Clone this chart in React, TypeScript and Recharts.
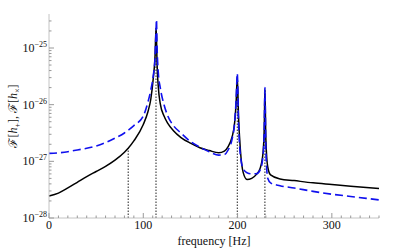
import { LineChart, Line, XAxis, YAxis, ReferenceLine } from "recharts"

// frequency samples [Hz]
const freq = [
  0, 10, 20, 30, 40, 50, 60, 70, 80, 84, 90, 100, 105, 108, 110.5, 112.5, 113.5, 114, 114.5, 116,
  118, 122, 126, 132, 140, 150, 160, 170, 180, 186, 190, 194, 197, 198.5, 199.7, 201, 203, 206,
  210, 215, 220, 224, 227, 228.3, 229, 230, 232, 235, 245, 260, 280, 300, 320, 350,
]

// log10 of F[h+] (black solid)
const plusLog = [
  -27.61, -27.56, -27.47, -27.37, -27.27, -27.18, -27.09, -26.98, -26.84, -26.77, -26.64, -26.35,
  -26.12, -25.9, -25.55, -25.13, -24.65, -24.8, -25.2, -25.7, -25.98, -26.2, -26.33, -26.46,
  -26.58, -26.68, -26.76, -26.81, -26.85, -26.82, -26.74, -26.58, -26.3, -25.95, -25.5, -26.2,
  -26.8, -27.2, -27.32, -27.3, -27.23, -27.12, -26.85, -26.4, -25.73, -26.6, -27.1, -27.24,
  -27.31, -27.34, -27.38, -27.41, -27.44, -27.48,
]

// log10 of F[hx] (blue dashed)
const crossLog = [
  -26.86, -26.85, -26.83, -26.8, -26.77, -26.73, -26.67, -26.59, -26.5, -26.45, -26.37, -26.2,
  -25.95, -25.74, -25.5, -25.15, -24.7, -24.5, -24.9, -25.45, -25.7, -26.0, -26.2, -26.37, -26.5,
  -26.65, -26.75, -26.83, -26.89, -26.88, -26.8, -26.62, -26.3, -25.9, -25.45, -26.3, -26.9,
  -27.13, -27.2, -27.22, -27.22, -27.15, -26.9, -26.45, -25.7, -26.8, -27.3, -27.38, -27.43,
  -27.47, -27.53, -27.58, -27.62, -27.68,
]

// dotted resonance markers
const markerFreq = [84, 113.5, 199.7, 229]
const markerLevel = [-26.77, -24.65, -25.5, -25.73]

const xMajor = [0, 100, 200, 300]

const data = freq.map((f, i) => ({ f, plus: plusLog[i], cross: crossLog[i] }))

const xTicks: number[] = []
for (let v = 0; v <= 350; v += 10) xTicks.push(v)
const yTicks: number[] = []
for (let n = -28; n <= -25; n++) {
  for (let k = 1; k <= 9; k++) {
    const t = n + Math.log10(k)
    if (t <= -24.4) yTicks.push(t)
  }
}

const serif = '"Liberation Serif", "DejaVu Serif", serif'
const tickColor = "#999"

const isMajorX = (v: number) => xMajor.includes(v)
const isMajorY = (v: number) => Math.abs(v - Math.round(v)) < 1e-6

const BottomTick = (props: any) => {
  const { x, y, payload } = props
  const major = isMajorX(payload.value)
  return (
    <g>
      <line x1={x} x2={x} y1={y} y2={y - (major ? 5 : 2.5)} stroke={tickColor} />
      {major && (
        <text x={x} y={y + 11} textAnchor="middle" fontSize={12} fontFamily={serif} fill="#111">
          {payload.value}
        </text>
      )}
    </g>
  )
}

const TopTick = (props: any) => {
  const { x, y, payload } = props
  const major = isMajorX(payload.value)
  return <line x1={x} x2={x} y1={y} y2={y + (major ? 5 : 2.5)} stroke={tickColor} />
}

const LeftTick = (props: any) => {
  const { x, y, payload } = props
  const major = isMajorY(payload.value)
  return (
    <g>
      <line x1={x} x2={x + (major ? 5 : 2.5)} y1={y} y2={y} stroke={tickColor} />
      {major && (
        <text x={x - 2} y={y + 4} textAnchor="end" fontSize={12} fontFamily={serif} fill="#111">
          <tspan>10</tspan>
          <tspan dy={-5} fontSize={8}>
            {"\u2212" + Math.abs(Math.round(payload.value))}
          </tspan>
        </text>
      )}
    </g>
  )
}

const RightTick = (props: any) => {
  const { x, y, payload } = props
  const major = isMajorY(payload.value)
  return <line x1={x} x2={x - (major ? 5 : 2.5)} y1={y} y2={y} stroke={tickColor} />
}

const YLabel = (props: any) => {
  const vb = props.viewBox || { x: 0, y: 14, width: 49, height: 204 }
  const cx = 17
  const cy = vb.y + vb.height / 2
  return (
    <text
      x={cx}
      y={cy}
      transform={`rotate(-90 ${cx} ${cy})`}
      textAnchor="middle"
      fontSize={12}
      fontFamily={serif}
      fill="#111"
    >
      <tspan>ℱ[</tspan>
      <tspan fontStyle="italic">h</tspan>
      <tspan dy={3} fontSize={8}>+</tspan>
      <tspan dy={-3}>],  ℱ[</tspan>
      <tspan fontStyle="italic">h</tspan>
      <tspan dy={3} fontSize={8}>×</tspan>
      <tspan dy={-3}>]</tspan>
    </text>
  )
}

export default function App() {
  return (
    <div style={{ position: "absolute", left: 0, top: 0, background: "#fff" }}>
      <LineChart width={395} height={250} data={data} margin={{ top: 14, right: 16, bottom: 0, left: 0 }}>
        <XAxis
          dataKey="f"
          type="number"
          domain={[0, 350]}
          ticks={xTicks}
          interval={0}
          height={32}
          tickSize={0}
          tickMargin={0}
          tickLine={false}
          axisLine={{ stroke: "#c4c4c4" }}
          tick={<BottomTick />}
          label={{ value: "frequency [Hz]", position: "insideBottom", offset: 5, fill: "#111", fontSize: 12, fontFamily: serif }}
        />
        <XAxis
          xAxisId="top"
          orientation="top"
          dataKey="f"
          type="number"
          domain={[0, 350]}
          ticks={xTicks}
          interval={0}
          height={0}
          tickSize={0}
          tickMargin={0}
          tickLine={false}
          axisLine={{ stroke: "#c4c4c4" }}
          tick={<TopTick />}
        />
        <YAxis
          type="number"
          domain={[-28, -24.4]}
          allowDataOverflow
          ticks={yTicks}
          interval={0}
          width={49}
          tickSize={0}
          tickMargin={0}
          tickLine={false}
          axisLine={{ stroke: "#c4c4c4" }}
          tick={<LeftTick />}
          label={<YLabel />}
        />
        <YAxis
          yAxisId="right"
          orientation="right"
          type="number"
          domain={[-28, -24.4]}
          allowDataOverflow
          ticks={yTicks}
          interval={0}
          width={0}
          tickSize={0}
          tickMargin={0}
          tickLine={false}
          axisLine={{ stroke: "#c4c4c4" }}
          tick={<RightTick />}
        />
        {markerFreq.map((f, i) => (
          <ReferenceLine
            key={f}
            segment={[
              { x: f, y: -28 },
              { x: f, y: markerLevel[i] },
            ]}
            stroke="#222"
            strokeWidth={1}
            strokeDasharray="1.5 1.5"
          />
        ))}
        <Line
          type="monotone"
          dataKey="plus"
          stroke="#000"
          strokeWidth={1.5}
          dot={false}
          isAnimationActive={false}
        />
        <Line
          type="monotone"
          dataKey="cross"
          stroke="#1010ee"
          strokeWidth={1.6}
          strokeDasharray="8 4"
          dot={false}
          isAnimationActive={false}
        />
      </LineChart>
    </div>
  )
}
